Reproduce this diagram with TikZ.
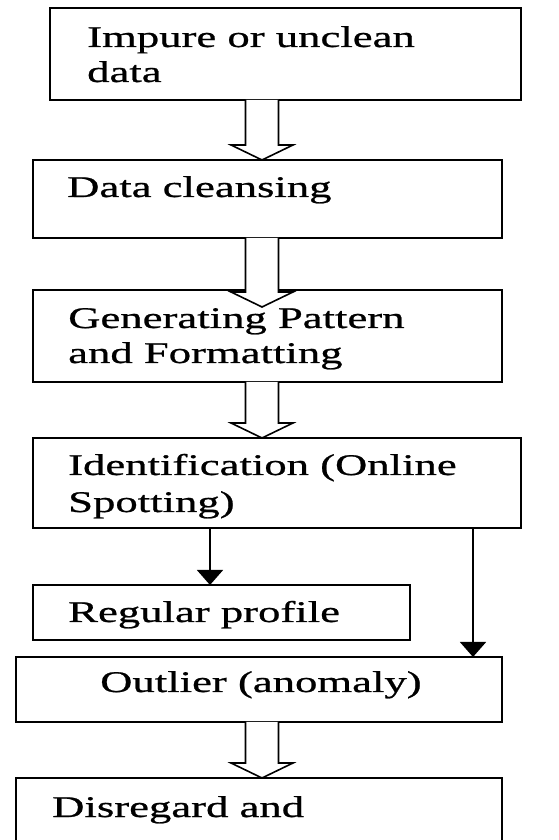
\documentclass[tikz,border=0pt]{standalone}
\usepackage{fontspec}
\setmainfont{Liberation Serif}[FakeStretch=1.49,FakeBold=0.8]
\usetikzlibrary{arrows.meta,calc}
\newcommand\harrow[2]{%
  \draw[hollow] ($(#1)+(-16.5,0)$) -- ($(#2)+(-16.5,15)$) -- ($(#2)+(-31,15)$) -- (#2)
    -- ($(#2)+(31,15)$) -- ($(#2)+(16.5,15)$) -- ($(#1)+(16.5,0)$);}
\begin{document}
\begin{tikzpicture}[x=1pt,y=1pt,
  box/.style={draw,line width=2.4pt,inner sep=0,outer sep=0,anchor=north west},
  lbl/.style={inner sep=0,anchor=base west,font=\fontsize{30}{35}\selectfont},
  hollow/.style={draw,line width=1.6pt,fill=white,line join=miter},
  thin/.style={line width=1.6pt,-{Triangle[width=26pt,length=15pt]}}]
\useasboundingbox (0,0) rectangle (558,840);
\clip (0,0) rectangle (558,840);
\fill[white] (0,0) rectangle (558,840);
% boxes
\node[box,minimum width=471pt,minimum height=92pt] (b1) at (50,832) {};
\node[box,minimum width=469pt,minimum height=78pt] (b2) at (33,680) {};
\node[box,minimum width=469pt,minimum height=92pt] (b3) at (33,550) {};
\node[box,minimum width=488pt,minimum height=90pt] (b4) at (33,402) {};
\node[box,minimum width=377pt,minimum height=55pt] (b5) at (33,255) {};
\node[box,minimum width=486pt,minimum height=65pt] (b6) at (16,183) {};
\node[box,minimum width=486pt,minimum height=100pt] (b7) at (16,62) {};
% texts
\node[lbl] (t1a) at (87,793) {Impure or unclean};
\node[lbl] (t1b) at (87,758) {data};
\node[lbl] (t2) at (67,643) {Data cleansing};
\node[lbl] (t3a) at (68,512) {Generating Pattern};
\node[lbl] (t3b) at (68,477) {and Formatting};
\node[lbl] (t4a) at (68,365) {Identification (Online};
\node[lbl] (t4b) at (68,328) {Spotting)};
\node[lbl] (t5) at (68,218) {Regular profile};
\node[lbl] (t6) at (100,148) {Outlier (anomaly)};
\node[lbl] (t7) at (52,23) {Disregard and};
% arrow helpers
\coordinate (ax) at (262,0);
\coordinate (rx) at (210,0);
\coordinate (qx) at (473,0);
\coordinate (s1) at (b1.south -| ax);
\coordinate (e1) at (b2.north -| ax);
\coordinate (s2) at (b2.south -| ax);
\coordinate (e2) at ($(b3.north -| ax)+(0,-17)$);
\coordinate (s3) at (b3.south -| ax);
\coordinate (e3) at (b4.north -| ax);
\coordinate (s5) at (b6.south -| ax);
\coordinate (e5) at (b7.north -| ax);
\harrow{s1}{e1}
\harrow{s2}{e2}
\harrow{s3}{e3}
\harrow{s5}{e5}
\draw[thin] (b4.south -| rx) -- (b5.north -| rx);
\draw[thin] (b4.south -| qx) -- (b6.north -| qx);
\end{tikzpicture}
\end{document}
